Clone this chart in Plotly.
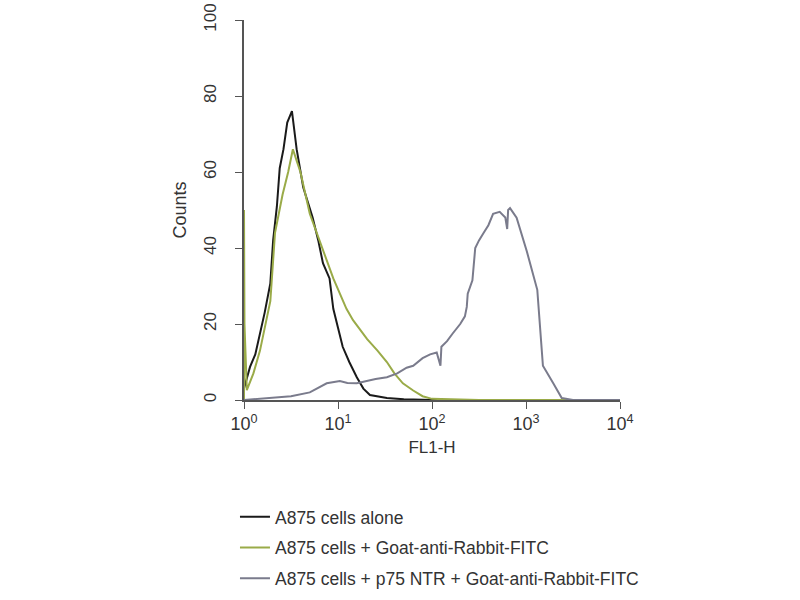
import numpy as np
import plotly.graph_objects as go

# FL1-H positions are given as decade exponents (log10 of FL1-H)
alone_exp = [0.0, 0.03, 0.064, 0.12, 0.17, 0.22, 0.28, 0.31, 0.35, 0.38, 0.42, 0.46, 0.51,
             0.56, 0.63, 0.68, 0.73, 0.79, 0.84, 0.91, 0.95, 1.0, 1.05, 1.12, 1.2, 1.27,
             1.34, 1.52, 1.7, 2.0, 2.5, 3.0, 3.5, 4.0]
alone_counts = [3, 6, 8.7, 12, 17.5, 23, 30.7, 42, 51, 61, 66, 73, 76,
                66, 56, 52, 48, 42, 36, 32, 24, 19, 14, 10, 6, 3,
                1.3, 0.5, 0.2, 0, 0, 0, 0, 0]

fitc_exp = [0.0, 0.0, 0.005, 0.03, 0.1, 0.17, 0.22, 0.28, 0.33, 0.37, 0.41, 0.47, 0.52,
            0.56, 0.6, 0.7, 0.79, 0.88, 0.95, 1.02, 1.09, 1.16, 1.24, 1.31, 1.42, 1.52,
            1.6, 1.69, 1.8, 1.9, 2.0, 2.5, 3.0, 3.5, 4.0]
fitc_counts = [0, 50, 20, 2.6, 7, 13, 19, 26, 44, 49, 54, 60, 66,
               63, 60, 49, 43, 37, 32, 28, 24, 21, 18.5, 16, 13, 10,
               7, 4.4, 2.5, 1, 0.3, 0, 0, 0, 0]

p75_exp = [0.0, 0.3, 0.5, 0.7, 0.88, 1.02, 1.1, 1.2, 1.3, 1.4, 1.52, 1.63, 1.73, 1.8,
           1.9, 1.98, 2.05, 2.09, 2.1, 2.16, 2.22, 2.3, 2.35, 2.37, 2.38, 2.43, 2.46,
           2.5, 2.55, 2.6, 2.65, 2.72, 2.78, 2.8, 2.81, 2.83, 2.9, 3.01, 3.12, 3.18,
           3.29, 3.38, 3.5, 4.0]
p75_counts = [0, 0.5, 1, 2, 4.4, 5, 4.5, 4.4, 5, 5.5, 6, 7, 8.5, 9,
              11, 12, 12.5, 9, 14, 15.5, 17.5, 20, 22, 24.5, 28, 31.5, 40,
              42, 44, 46, 49, 49.5, 48, 45, 50, 50.5, 48, 39, 29, 9,
              4.4, 0.5, 0, 0]

x_tickvals = [1, 10, 100, 1000, 10000]
x_ticktext = ["10<sup>0</sup>", "10<sup>1</sup>", "10<sup>2</sup>", "10<sup>3</sup>", "10<sup>4</sup>"]
y_tickvals = [0, 20, 40, 60, 80, 100]

series = [
    ("A875 cells alone", alone_exp, alone_counts, "#1a1a1a"),
    ("A875 cells + Goat-anti-Rabbit-FITC", fitc_exp, fitc_counts, "#9aab48"),
    ("A875 cells + p75 NTR + Goat-anti-Rabbit-FITC", p75_exp, p75_counts, "#7a7b8c"),
]

font_family = "Liberation Sans, Arial, sans-serif"

fig = go.Figure()
for i, (name, xe, yc, color) in enumerate(series):
    fig.add_trace(go.Scatter(
        x=np.power(10.0, xe), y=yc, mode="lines", name=name,
        line=dict(color=color, width=2), legendgroup=f"g{i}",
    ))

fig.update_layout(
    width=800, height=600,
    margin=dict(l=244, r=180, t=20, b=200, autoexpand=False),
    paper_bgcolor="white", plot_bgcolor="white",
    font=dict(family=font_family, size=16, color="#333333"),
    showlegend=True,
    legend=dict(x=-0.024, y=-0.26, xanchor="left", yanchor="top",
                itemwidth=30, tracegroupgap=5,
                font=dict(family=font_family, size=17.5, color="#333333")),
)
fig.update_xaxes(
    type="log", range=[0, 4], tickvals=x_tickvals, ticktext=x_ticktext,
    showgrid=False, zeroline=False, showline=True, linecolor="#555555", linewidth=1.5,
    ticks="outside", ticklen=7, tickcolor="#555555", automargin=False,
    tickfont=dict(size=18),
    title=dict(text="FL1-H", standoff=8, font=dict(size=17)),
)
fig.update_yaxes(
    range=[0, 100], tickvals=y_tickvals, tickangle=-90,
    showgrid=False, zeroline=False, showline=True, linecolor="#555555", linewidth=1.5,
    ticks="outside", ticklen=7, tickcolor="#555555", automargin=False,
    tickfont=dict(size=17), ticklabelstandoff=12,
    title=dict(text="Counts", standoff=10, font=dict(size=18)),
)

# drop the default page margin so the figure sits at the window's corner
fig.write_html("out.html", config={"displayModeBar": False},
               post_script="document.body.style.margin='0px';")
